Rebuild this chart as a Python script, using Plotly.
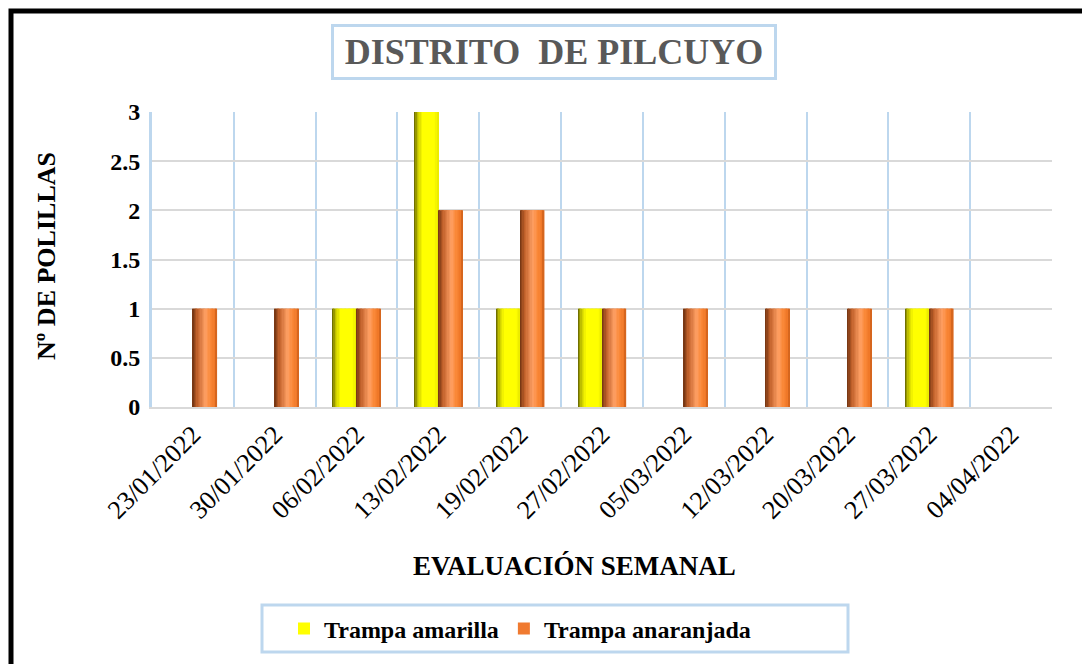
import plotly.graph_objects as go

# ---- data ----
fechas = ["23/01/2022", "30/01/2022", "06/02/2022", "13/02/2022", "19/02/2022",
          "27/02/2022", "05/03/2022", "12/03/2022", "20/03/2022", "27/03/2022",
          "04/04/2022"]
trampa_amarilla = [0, 0, 1, 3, 1, 1, 0, 0, 0, 1, 0]
trampa_anaranjada = [1, 1, 1, 2, 2, 1, 1, 1, 1, 1, 0]

titulo = "DISTRITO\u00a0 DE PILCUYO"
titulo_x = "EVALUACIÓN SEMANAL"
titulo_y = "Nº DE POLILLAS"

FONT = "Liberation Serif, Times New Roman, serif"
BLUE = "#bdd7ee"
GRID = "#d9d9d9"

# gradient stops (fraction across bar width, rgb)
grad_amarilla = [(0.0, (92, 92, 0)), (0.15, (198, 198, 0)), (0.35, (255, 255, 0)),
                 (0.85, (255, 255, 0)), (1.0, (232, 232, 0))]
grad_naranja = [(0.0, (110, 50, 16)), (0.2, (192, 96, 42)), (0.55, (255, 160, 100)),
                (0.75, (250, 136, 56)), (0.92, (240, 120, 40)), (1.0, (200, 92, 24))]


def color_at(stops, t):
    for (t0, c0), (t1, c1) in zip(stops[:-1], stops[1:]):
        if t <= t1:
            f = (t - t0) / (t1 - t0) if t1 > t0 else 0
            c = [round(a + (b - a) * f) for a, b in zip(c0, c1)]
            return "rgb(%d,%d,%d)" % tuple(c)
    return "rgb(%d,%d,%d)" % stops[-1][1]


BW = 0.293          # width of one bar in category units
N = 18              # slices for shading

fig = go.Figure()
series = [("Trampa amarilla", trampa_amarilla, -BW, grad_amarilla, "#ffff00"),
          ("Trampa anaranjada", trampa_anaranjada, 0.0, grad_naranja, "#f07a30")]

for name, vals, off, stops, base_col in series:
    fig.add_trace(go.Bar(x=fechas, y=vals, name=name, width=BW, offset=off,
                         marker=dict(color=base_col, line=dict(width=0)),
                         hoverinfo="skip"))
    for i in range(N):
        t = (i + 0.5) / N
        fig.add_trace(go.Bar(x=fechas, y=vals, width=BW / N * 1.15,
                             offset=off + i * BW / N,
                             marker=dict(color=color_at(stops, t), line=dict(width=0)),
                             showlegend=False, hoverinfo="skip"))

# page body has an 8px margin; figure coords = screen coords - 8
OFF = 8
W, H = 1082, 656
L, T = 152 - OFF, 112 - OFF
R = W - (1052 - OFF)
B = H - (407 - OFF)
PW, PH = W - L - R, H - T - B


def px_x(p):   # screen x -> paper
    return (p - OFF - L) / PW


def px_y(p):   # screen y -> paper
    return (H - B - (p - OFF)) / PH


fig.update_layout(
    width=W, height=H,
    margin=dict(l=L, r=R, t=T, b=B, pad=0),
    paper_bgcolor="white", plot_bgcolor="white",
    barmode="overlay",
    font=dict(family=FONT, color="black"),
    showlegend=True,
    legend=dict(orientation="h", x=px_x(520), y=px_y(629), xanchor="center",
                yanchor="middle", bgcolor="rgba(0,0,0,0)", borderwidth=0,
                font=dict(family=FONT, size=24, color="black", weight="bold"),
                itemwidth=30, traceorder="normal"),
    xaxis=dict(type="category", tickson="boundaries", showgrid=True,
               gridcolor=BLUE, gridwidth=2, ticks="", tickangle=-45,
               tickfont=dict(family=FONT, size=26, color="black"),
               showline=True, linecolor=GRID, linewidth=2, zeroline=False,
               range=[-0.5, len(fechas) - 0.5]),
    yaxis=dict(range=[0, 3], dtick=0.5, showgrid=True, gridcolor=GRID,
               gridwidth=2, ticks="", zeroline=False, showline=True,
               linecolor=BLUE, linewidth=3, ticklabelstandoff=4,
               tickfont=dict(family=FONT, size=24, color="black", weight="bold")),
    annotations=[
        dict(text=titulo, xref="paper", yref="paper", x=px_x(553.5), y=px_y(52),
             xanchor="center", yanchor="middle", showarrow=False,
             width=428, height=38,
             font=dict(family=FONT, size=36, color="#595959", weight="bold"),
             bordercolor=BLUE, borderwidth=3, borderpad=6, bgcolor="white"),
        dict(text=titulo_x, xref="paper", yref="paper", x=px_x(574), y=px_y(566),
             xanchor="center", yanchor="middle", showarrow=False,
             font=dict(family=FONT, size=27, color="black", weight="bold")),
        dict(text=titulo_y, xref="paper", yref="paper", x=px_x(46), y=px_y(256),
             xanchor="center", yanchor="middle", showarrow=False, textangle=-90,
             font=dict(family=FONT, size=26, color="black", weight="bold")),
    ],
    shapes=[
        dict(type="rect", xref="paper", yref="paper",
             x0=px_x(11), x1=px_x(1110), y0=px_y(690), y1=px_y(11),
             line=dict(color="black", width=5), fillcolor="rgba(0,0,0,0)", layer="below"),
        dict(type="rect", xref="paper", yref="paper",
             x0=px_x(262), x1=px_x(848), y0=px_y(652), y1=px_y(605),
             line=dict(color=BLUE, width=3), fillcolor="rgba(0,0,0,0)"),
    ],
)

fig.write_html("out.html")
